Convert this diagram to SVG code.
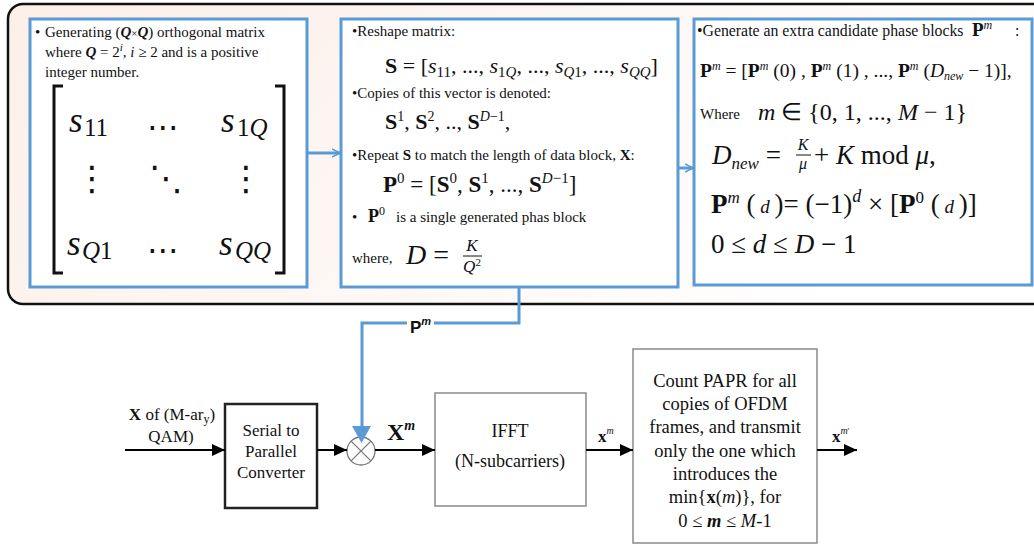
<svg xmlns="http://www.w3.org/2000/svg" width="1034" height="544" viewBox="0 0 1034 544">
<defs>
<linearGradient id="bg" x1="0" y1="0" x2="1" y2="0.3">
<stop offset="0" stop-color="#fcefe8"/>
<stop offset="0.6" stop-color="#fdf8f6"/>
<stop offset="1" stop-color="#ffffff"/>
</linearGradient>
<marker id="ah" markerUnits="userSpaceOnUse" markerWidth="14" markerHeight="12" refX="13" refY="6" orient="auto">
<path d="M0,0 L13,6 L0,12 z" fill="#000"/>
</marker>
<marker id="bh" markerUnits="userSpaceOnUse" markerWidth="10" markerHeight="10" refX="8" refY="5" orient="auto">
<path d="M0,1 L8,5 L0,9" fill="none" stroke="#5b9bd5" stroke-width="1.5"/>
</marker>
</defs>
<style>
.t{font-family:"Liberation Serif","Times New Roman",serif;fill:#111}
.b15{font-size:15px}
.m{font-family:"Liberation Serif","Times New Roman",serif;fill:#111}
.i{font-style:italic}
.bd{font-weight:bold}
.bbox{fill:#fff;stroke:#5b9bd5;stroke-width:3}
.gbox{fill:#fff;stroke:#8a8a8a;stroke-width:1.5}
.kbox{fill:#fff;stroke:#222;stroke-width:2.5}
.ln{stroke:#000;stroke-width:2;fill:none}
.bl{stroke:#5b9bd5;stroke-width:3;fill:none}
.dots{font-family:"DejaVu Sans",sans-serif;fill:#111}
</style>
<rect x="0" y="0" width="1034" height="544" fill="#fff"/>
<g id="panel">
<rect x="8" y="4" width="1050" height="300" rx="15" fill="url(#bg)" stroke="#111" stroke-width="2.5"/>
</g>

<g id="box1">
<rect class="bbox" x="30" y="19" width="277" height="268"/>
<text class="t b15" x="35" y="37">•<tspan x="45">Generating (</tspan><tspan class="i bd">Q</tspan><tspan font-size="11">×</tspan><tspan class="i bd">Q</tspan>) orthogonal matrix</text>
<text class="t b15" x="45" y="57">where <tspan class="i bd">Q</tspan> = 2<tspan class="i" font-size="11" dy="-6">i</tspan><tspan dy="6">, </tspan><tspan class="i">i</tspan> ≥ 2 and is a positive</text>
<text class="t b15" x="45" y="77">integer number.</text>
<path d="M63,86 H54 V273 H63" fill="none" stroke="#111" stroke-width="3"/>
<path d="M275,86 H284 V273 H275" fill="none" stroke="#111" stroke-width="3"/>
<text class="m i" font-size="35" x="69" y="132">s</text><text class="m" font-size="25" x="84" y="136">11</text>
<text class="m i" font-size="35" x="221" y="132">s</text><text class="m" font-size="25" x="237" y="136">1<tspan class="i">Q</tspan></text>
<text class="m i" font-size="35" x="67" y="255">s</text><text class="m" font-size="25" x="82" y="259"><tspan class="i">Q</tspan>1</text>
<text class="m i" font-size="35" x="219" y="255">s</text><text class="m i" font-size="25" x="235" y="259">QQ</text>
<text class="dots" font-size="32" x="163" y="138" text-anchor="middle">⋯</text>
<text class="dots" font-size="32" x="163" y="261" text-anchor="middle">⋯</text>
<text class="dots" font-size="34" x="92" y="190" text-anchor="middle">⋮</text>
<text class="dots" font-size="34" x="246" y="190" text-anchor="middle">⋮</text>
<text class="dots" font-size="34" x="166" y="190" text-anchor="middle">⋱</text>
</g>

<g id="box2">
<rect class="bbox" x="341" y="19" width="337" height="268"/>
<text class="t b15" x="352" y="36">•Reshape matrix:</text>
<text class="m" font-size="22" x="385" y="73"><tspan class="bd">S</tspan> = [<tspan class="i">s</tspan><tspan font-size="15" dy="4">11</tspan><tspan dy="-4">, ..., </tspan><tspan class="i">s</tspan><tspan font-size="15" dy="4">1<tspan class="i">Q</tspan></tspan><tspan dy="-4">, ..., </tspan><tspan class="i">s</tspan><tspan font-size="15" dy="4"><tspan class="i">Q</tspan>1</tspan><tspan dy="-4">, ..., </tspan><tspan class="i">s</tspan><tspan font-size="15" dy="4" class="i">QQ</tspan><tspan dy="-4">]</tspan></text>
<text class="t b15" x="352" y="98">•Copies of this vector is denoted:</text>
<text class="m" font-size="22" x="385" y="129"><tspan class="bd">S</tspan><tspan font-size="14" dy="-8">1</tspan><tspan dy="8">, </tspan><tspan class="bd">S</tspan><tspan font-size="14" dy="-8">2</tspan><tspan dy="8">, .., </tspan><tspan class="bd">S</tspan><tspan font-size="14" dy="-8"><tspan class="i">D</tspan>−1</tspan><tspan dy="8">,</tspan></text>
<text class="t b15" x="352" y="160">•Repeat <tspan class="bd">S</tspan> to match the length of data block, <tspan class="bd">X</tspan>:</text>
<text class="m" font-size="23" x="383" y="192"><tspan class="bd">P</tspan><tspan font-size="15" dy="-9">0</tspan><tspan dy="9"> = [</tspan><tspan class="bd">S</tspan><tspan font-size="15" dy="-9">0</tspan><tspan dy="9">, </tspan><tspan class="bd">S</tspan><tspan font-size="15" dy="-9">1</tspan><tspan dy="9">, ..., </tspan><tspan class="bd">S</tspan><tspan font-size="15" dy="-9"><tspan class="i">D</tspan>−1</tspan><tspan dy="9">]</tspan></text>
<text class="t b15" x="352" y="222">• <tspan class="bd" font-size="18" x="368">P</tspan><tspan font-size="12" dy="-7">0</tspan><tspan dy="7" x="396">is a single generated phas block</tspan></text>
<text class="t b15" x="352" y="263">where,</text>
<text class="m" font-size="28" x="406" y="264"><tspan class="i">D</tspan> =</text>
<text class="m i" font-size="17" x="472" y="251" text-anchor="middle">K</text>
<line x1="463" y1="256" x2="482" y2="256" stroke="#111" stroke-width="1"/>
<text class="m" font-size="17" x="472" y="272" text-anchor="middle"><tspan class="i">Q</tspan><tspan font-size="11" dy="-6">2</tspan></text>
</g>

<g id="box3">
<rect class="bbox" x="694" y="19" width="338" height="266"/>
<text class="t" font-size="15.8" x="697" y="36">•Generate an extra candidate phase blocks <tspan class="bd" font-size="19" x="972">P</tspan><tspan class="i" font-size="12" dy="-7">m</tspan><tspan dy="7" x="1015">:</tspan></text>
<text class="m" font-size="19.5" x="700" y="77"><tspan class="bd">P</tspan><tspan class="i" font-size="12" dy="-7">m</tspan><tspan dy="7"> = [</tspan><tspan class="bd">P</tspan><tspan class="i" font-size="12" dy="-7">m</tspan><tspan dy="7"> (0) , </tspan><tspan class="bd">P</tspan><tspan class="i" font-size="12" dy="-7">m</tspan><tspan dy="7"> (1) , ..., </tspan><tspan class="bd">P</tspan><tspan class="i" font-size="12" dy="-7">m</tspan><tspan dy="7"> (</tspan><tspan class="i">D</tspan><tspan class="i" font-size="12" dy="3">new</tspan><tspan dy="-3"> − 1)],</tspan></text>
<text class="t b15" x="700" y="119">Where</text>
<text class="m" font-size="24" x="758" y="120"><tspan class="i">m</tspan> ∈ {0, 1, ..., <tspan class="i">M</tspan> − 1}</text>
<text class="m" font-size="27" x="712" y="164"><tspan class="i">D</tspan><tspan class="i" font-size="17" dy="5">new</tspan><tspan dy="-5"> =</tspan></text>
<text class="m i" font-size="16" x="803" y="150" text-anchor="middle">K</text>
<line x1="796" y1="155" x2="811" y2="155" stroke="#111" stroke-width="1"/>
<text class="m i" font-size="16" x="803" y="169" text-anchor="middle">μ</text>
<text class="m" font-size="27" x="814" y="164">+ <tspan class="i">K</tspan> mod <tspan class="i">μ</tspan>,</text>
<text class="m" font-size="27" x="711" y="213"><tspan class="bd">P</tspan><tspan class="i" font-size="17" dy="-10">m</tspan><tspan dy="10"> (</tspan><tspan class="i" font-size="19"> d </tspan>)= (−1)<tspan class="i" font-size="18" dy="-11">d</tspan><tspan dy="11"> × [</tspan><tspan class="bd">P</tspan><tspan font-size="17" dy="-10">0</tspan><tspan dy="10"> (</tspan><tspan class="i" font-size="19"> d </tspan>)]</text>
<text class="m" font-size="27" x="711" y="253">0 ≤ <tspan class="i">d</tspan> ≤ <tspan class="i">D</tspan> − 1</text>
</g>

<g id="sp">
<rect class="kbox" x="225" y="404" width="92" height="104"/>
<text class="t" font-size="17" text-anchor="middle" x="271" y="436">Serial to</text>
<text class="t" font-size="17" text-anchor="middle" x="271" y="457">Parallel</text>
<text class="t" font-size="17" text-anchor="middle" x="271" y="478">Converter</text>
</g>
<g id="mult">
<circle cx="361" cy="451" r="14" fill="#fff" stroke="#777" stroke-width="1.3"/>
<path d="M351.1,441.1 L370.9,460.9 M370.9,441.1 L351.1,460.9" stroke="#777" stroke-width="1.3"/>
</g>
<g id="ifft">
<rect class="gbox" x="435" y="393" width="151" height="113"/>
<text class="t" font-size="18" text-anchor="middle" x="510" y="437">IFFT</text>
<text class="t" font-size="18" text-anchor="middle" x="510" y="467">(N-subcarriers)</text>
</g>
<g id="papr">
<rect class="gbox" x="633" y="349" width="184" height="194"/>
<g class="t" font-size="18.5" text-anchor="middle">
<text x="725" y="387">Count PAPR for all</text>
<text x="725" y="410">copies of OFDM</text>
<text x="725" y="433">frames, and transmit</text>
<text x="725" y="457">only the one which</text>
<text x="725" y="480">introduces the</text>
<text x="725" y="503">min{<tspan class="bd">x</tspan>(<tspan class="i">m</tspan>)}, for</text>
<text x="725" y="527">0 ≤ <tspan class="i bd">m</tspan> ≤ <tspan class="i">M</tspan>-1</text>
</g>
</g>

<g id="connectors">
<line class="bl" x1="307" y1="153" x2="340" y2="153" marker-end="url(#bh)"/>
<line class="bl" x1="678" y1="168" x2="693" y2="168" marker-end="url(#bh)"/>
<path class="bl" d="M519,287 V323 H434"/>
<path class="bl" d="M407,323 H362 V428"/>
<path d="M352,426 L371,426 L361.5,443 z" fill="#5b9bd5"/>
<text x="410" y="333" font-family="Liberation Sans,Arial,sans-serif" font-weight="bold" font-size="17" fill="#111">P<tspan font-style="italic" font-size="11" dy="-8">m</tspan></text>
<line class="ln" x1="125" y1="450" x2="225" y2="450" marker-end="url(#ah)"/>
<line class="ln" x1="317" y1="450" x2="347" y2="450" marker-end="url(#ah)"/>
<line class="ln" x1="375" y1="450" x2="435" y2="450" marker-end="url(#ah)"/>
<line class="ln" x1="586" y1="450" x2="633" y2="450" marker-end="url(#ah)"/>
<line class="ln" x1="817" y1="450" x2="857" y2="450" marker-end="url(#ah)"/>
<text class="t" font-size="17" x="172" y="420" text-anchor="middle"><tspan class="bd">X</tspan> of (M-ar<tspan font-size="12" dy="3">y</tspan><tspan dy="-3">)</tspan></text>
<text class="t" font-size="17" x="171" y="442" text-anchor="middle">QAM)</text>
<text class="t bd" font-size="24" x="387" y="440">X<tspan class="i" font-size="14" dy="-10">m</tspan></text>
<text class="t bd" font-size="17" x="598" y="442">x<tspan class="i" font-weight="normal" font-size="10" dy="-8">m</tspan></text>
<text class="t bd" font-size="17" x="832" y="442">x<tspan class="i" font-weight="normal" font-size="10" dy="-8">m</tspan><tspan font-weight="normal" font-size="8">'</tspan></text>
</g>
</svg>
